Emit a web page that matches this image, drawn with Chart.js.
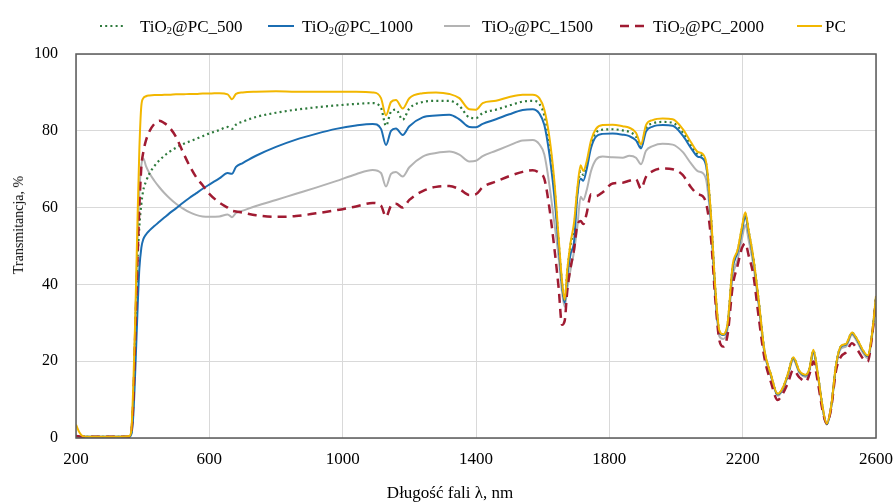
<!DOCTYPE html>
<html><head><meta charset="utf-8">
<script src="https://cdn.jsdelivr.net/npm/chart.js@4.4.1/dist/chart.umd.min.js"></script>
<style>
html,body{margin:0;padding:0;background:#fff}
#wrap{width:895px;height:502px;position:relative;font-family:'Liberation Serif','Times New Roman',serif;color:#000}
#wrap canvas{position:absolute;left:0;top:0}
.lg{position:absolute;top:18px;font-size:17px;line-height:17px;white-space:nowrap}
.lg sub{font-size:0.62em;line-height:0;vertical-align:-0.22em}
#mk{position:absolute;left:0;top:0}
#xt{position:absolute;left:450px;top:484px;transform:translateX(-50%);font-size:17px;line-height:17px;white-space:nowrap}
#yt{position:absolute;left:18.5px;top:225px;transform:translate(-50%,-50%) rotate(-90deg);font-size:14px;line-height:14px;white-space:nowrap}
</style>
</head><body><div id="wrap"><canvas id="c"></canvas>
<svg id="mk" width="895" height="40"></svg>
<div id="legendBox"></div>
<div id="xt">Długość fali λ, nm</div>
<div id="yt">Transmitancja, %</div>
</div>
<script>
const wavelengths = [
  200,210,220,240,300,350,360,366,372,378,
  384,390,396,402,410,420,435,450,465,480,
  500,520,540,560,580,600,630,655,668,680,
  700,740,800,860,920,980,1040,1090,1115,1130,
  1145,1160,1180,1200,1240,1280,1320,1350,1380,1400,
  1420,1460,1500,1540,1570,1590,1605,1620,1635,1648,
  1658,1666,1674,1684,1694,1704,1714,1722,1732,1745,
  1760,1780,1810,1840,1860,1880,1895,1910,1930,1960,
  1990,2020,2045,2065,2080,2092,2105,2118,2130,2142,
  2155,2170,2185,2198,2208,2218,2232,2248,2265,2285,
  2305,2320,2335,2352,2370,2390,2400,2412,2425,2440,
  2452,2465,2480,2495,2510,2528,2545,2560,2575,2588,2600
];
const tio2_500 = [
  0.5,0.4,0.3,0.3,0.3,0.3,0.4,1.5,10,28,
  45,55,61,64.6,66.8,68.8,70.8,72.3,73.5,74.5,
  75.6,76.5,77.2,77.9,78.6,79.3,80.2,81.0,80.5,81.6,
  82.4,83.6,84.7,85.5,86.1,86.6,87.0,87.2,86,81.3,
  85.0,85.5,82.9,85.8,87.5,87.8,87.8,86.5,83.5,83.3,
  84.6,85.5,86.6,87.6,87.8,87.0,84,77,65.5,51,
  40.5,35.8,43.5,50.5,54.5,64,69.5,68.5,71,76.5,
  79.5,80.3,80.4,80.1,79.7,78.5,75.8,80.6,81.9,82.3,
  82.1,79.6,76.2,73.9,73.4,70.5,57.5,38.5,27.8,27,
  29.8,44.5,48.8,54.5,58.3,53.8,46.8,35.8,22.9,16.4,
  11.4,12.9,16.4,20.9,17.4,16.4,17.9,22.7,16.9,7.9,
  3.7,7.9,18.9,23.9,24.4,27.4,25.4,22.9,21.4,26.9,36.8
];
const tio2_1000 = [
  0.5,0.4,0.3,0.3,0.3,0.3,0.4,1,6,18,
  32,44,49.5,51.8,53,54,55.2,56.3,57.4,58.5,
  59.8,61.2,62.5,63.7,64.9,66,67.6,69,68.8,70.6,
  71.6,73.5,75.8,77.7,79.2,80.5,81.4,81.8,80.5,76.3,
  80,80.6,78.9,81.2,83.5,84.0,84.2,83.0,81.0,80.9,
  81.8,83.0,84.3,85.4,85.6,84.5,81.5,74,63,50,
  40,35.2,42,48,51,63,67.5,67,70,75.5,
  78.5,79.2,79.3,79.0,78.6,77.5,75.4,79.8,81.1,81.5,
  81.3,78.8,75.5,73.3,72.8,70,57,38,27.5,26.8,
  29.5,44,48.5,54,57.8,53.5,46.5,35.5,22.8,16.3,
  11.3,12.8,16.3,20.8,17.3,16.3,17.8,22.5,16.8,7.8,
  3.6,7.8,18.8,23.8,24.3,27.3,25.3,22.8,21.3,26.8,36.5
];
const tio2_1500 = [
  0.5,0.4,0.3,0.3,0.3,0.3,0.4,1.5,10,30,
  50,64,71,72.8,70.8,69,67,65.3,63.8,62.5,
  61,59.8,58.8,58.1,57.7,57.6,57.7,58.2,57.5,58.6,
  59.2,60.4,62.0,63.6,65.2,66.9,68.7,69.8,69.0,65.5,
  68.8,69.3,68.1,70.5,73.3,74.2,74.6,73.8,72.0,72.2,
  73.4,74.8,76.2,77.5,77.6,76.5,73.8,66,56,47,
  38,34.2,39,44,48.5,55,62.8,62,64.5,69.5,
  72.5,73.3,73.1,73.0,73.5,73.0,71.3,74.8,76.0,76.6,
  76.4,74.5,71.5,69.5,69.0,66.5,55,37,26.5,25.8,
  28.5,42,46.5,52,55.5,51.5,45,34.5,22.3,16.0,
  11.0,12.5,16,20.3,17.0,15.9,17.5,22.0,16.5,7.6,
  3.5,7.6,18.3,23.3,23.8,26.8,24.8,22.3,20.8,26.3,36
];
const tio2_2000 = [
  0.5,0.4,0.3,0.3,0.3,0.3,0.4,1.5,10,28,
  45,60,70.5,74.5,77.5,79.8,81.8,82.6,82.0,80.9,
  78.4,74.6,71,68.0,65.8,63.6,61.3,60.0,59.2,59.0,
  58.7,58.0,57.6,57.8,58.5,59.3,60.3,61.2,60.5,57.6,
  60.5,61.0,60.0,62.0,64.3,65.4,65.6,64.8,63.3,63.5,
  65.3,66.8,68.2,69.3,69.7,69.0,67.5,60,49.5,39,
  29.5,30.5,38.5,44.5,49,55.5,56.5,55.7,58.5,63.5,
  63.0,64.0,66.3,66.5,67.0,67.4,64.9,68.0,69.5,70.2,
  70.0,68.5,65.3,63.5,63.0,60.5,52,36,25.5,23.8,
  27,39.5,45,49.5,50.7,47.5,42.5,31.5,21,14.5,
  9.9,11.5,14.2,17.7,15.8,14.7,16.5,19.9,14.8,7.0,
  3.8,7.5,17.5,21.2,22.3,24.7,22.9,20.8,19.9,26.4,35.9
];
const pc = [
  3.5,1.5,0.5,0.3,0.3,0.4,0.5,2,14,32,
  55,75,86.5,88.5,89,89.2,89.3,89.3,89.4,89.4,
  89.5,89.5,89.6,89.6,89.7,89.7,89.8,89.5,88.2,89.6,
  90.0,90.2,90.3,90.2,90.2,90.2,90.2,90.0,88.5,84.0,
  87.5,88.0,85.8,88.5,89.8,90.0,89.6,88.5,85.6,85.5,
  87.2,87.8,88.8,89.4,89.4,88.5,85.5,78.5,67,52,
  41,36,44,51,56,65,71,69.5,72,77.5,
  80.5,81.5,81.6,81.2,80.8,79.5,76.5,81.5,82.8,83.2,
  83.0,80.5,77,74.5,74.0,71,58,39,28,27,
  30,45,49,55,58.8,54,47,36,23,16.5,
  11.5,13,16.5,21,17.5,16.5,18,23,17,8,
  3.8,8,19,24,24.5,27.5,25.5,23,21.5,27,37
];
const seriesNames = ['TiO2@PC_500','TiO2@PC_1000','TiO2@PC_1500','TiO2@PC_2000','PC'];
const xTicks = [200,600,1000,1400,1800,2200,2600];
const yTicks = [0,20,40,60,80,100];

const toXY = arr => arr.map((v,i)=>({x:wavelengths[i], y:v}));
const FONT = "'Liberation Serif','Times New Roman',serif";

const colors = ['#2e7a3c','#1b6db2','#b3b3b3','#a01b32','#f2b700'];
const dashes = [[2,3.2],[],[],[9,6],[]];
const widths = [2.2,2,2,2.5,2];
const orders = [3,2,4,1,0];
const allData = [tio2_500, tio2_1000, tio2_1500, tio2_2000, pc];

// HTML legend (real text, with subscript)
const legendLayout = [
  {m0:100,m1:124,tx:140},{m0:268,m1:294,tx:302},{m0:444,m1:470,tx:482},
  {m0:620,m1:645,tx:653},{m0:797,m1:822,tx:825}
];
const svg = document.getElementById('mk');
const lb = document.getElementById('legendBox');
seriesNames.forEach((name,i)=>{
  const L = legendLayout[i];
  const ln = document.createElementNS('http://www.w3.org/2000/svg','line');
  ln.setAttribute('x1',L.m0); ln.setAttribute('x2',L.m1);
  ln.setAttribute('y1',26); ln.setAttribute('y2',26);
  ln.setAttribute('stroke',colors[i]); ln.setAttribute('stroke-width',widths[i]);
  if(dashes[i].length) ln.setAttribute('stroke-dasharray',dashes[i].join(','));
  svg.appendChild(ln);
  const sp = document.createElement('span');
  sp.className='lg'; sp.style.left = L.tx+'px';
  sp.innerHTML = name.replace('TiO2','TiO<sub>2</sub>');
  lb.appendChild(sp);
});

const framePlugin = {
  id:'frame',
  afterDatasetsDraw(chart){
    const {ctx, chartArea:a} = chart;
    ctx.save();
    ctx.strokeStyle = '#5a5a5a';
    ctx.lineWidth = 1.5;
    ctx.strokeRect(a.left, a.top, a.right-a.left, a.bottom-a.top);
    ctx.restore();
  }
};

new Chart(document.getElementById('c'), {
  type:'line',
  data:{
    datasets: allData.map((d,i)=>({
      label: seriesNames[i],
      data: toXY(d),
      borderColor: colors[i],
      backgroundColor: colors[i],
      borderWidth: widths[i],
      borderDash: dashes[i],
      pointRadius: 0,
      cubicInterpolationMode: 'monotone',
      order: orders[i],
      fill: false
    }))
  },
  options:{
    responsive:true, maintainAspectRatio:false, animation:false,
    layout:{padding:{left:0,right:19,top:54,bottom:0}},
    plugins:{ legend:{display:false}, tooltip:{enabled:false} },
    scales:{
      x:{
        type:'linear', min:200, max:2600,
        afterFit(s){ s.height = 64; s.paddingRight = 0; s.paddingLeft = 0; },
        afterBuildTicks(s){ s.ticks = xTicks.map(v=>({value:v})); },
        grid:{color:'#d9d9d9', lineWidth:1, drawTicks:false},
        border:{display:false},
        ticks:{color:'#000', font:{family:FONT,size:17}, padding:11, maxRotation:0, callback:v=>String(v)}
      },
      y:{
        min:0, max:100,
        afterFit(s){ s.width = 76; s.paddingTop = 0; s.paddingBottom = 0; },
        afterBuildTicks(s){ s.ticks = yTicks.map(v=>({value:v})); },
        grid:{color:'#d9d9d9', lineWidth:1, drawTicks:false},
        border:{display:false},
        ticks:{color:'#000', font:{family:FONT,size:16}, padding:18, callback:v=>String(v)}
      }
    }
  },
  plugins:[framePlugin]
});
</script>
</body></html>
